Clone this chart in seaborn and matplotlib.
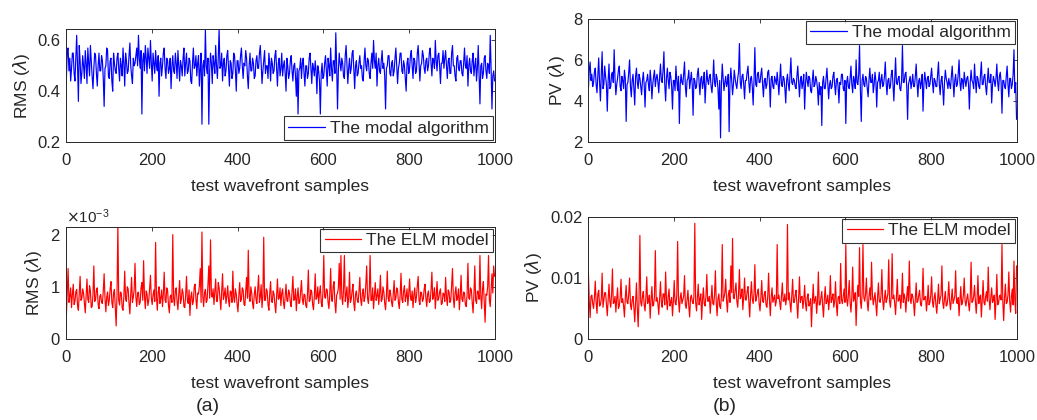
import numpy as np
import pandas as pd
import matplotlib
matplotlib.use("Agg")
import matplotlib.pyplot as plt
import seaborn as sns
from matplotlib.lines import Line2D

# Sample index (every 2nd test wavefront)
sample_idx = np.arange(1, 1001, 2)

# Modal algorithm RMS (lambda)
modal_rms = [
    0.45, 0.56, 0.57, 0.48, 0.53, 0.44, 0.49, 0.55, 0.55, 0.47, 0.44, 0.53, 0.62, 0.50, 0.36, 0.58, 0.52, 0.43, 0.47, 0.54,
    0.50, 0.45, 0.56, 0.51, 0.43, 0.57, 0.51, 0.46, 0.58, 0.52, 0.46, 0.41, 0.49, 0.55, 0.54, 0.47, 0.42, 0.50, 0.55, 0.48,
    0.48, 0.54, 0.52, 0.45, 0.34, 0.49, 0.50, 0.57, 0.56, 0.46, 0.45, 0.52, 0.53, 0.44, 0.40, 0.55, 0.51, 0.48, 0.47, 0.53,
    0.55, 0.49, 0.44, 0.53, 0.50, 0.46, 0.57, 0.51, 0.42, 0.55, 0.52, 0.47, 0.48, 0.54, 0.59, 0.50, 0.46, 0.43, 0.53, 0.50,
    0.51, 0.54, 0.57, 0.50, 0.62, 0.53, 0.49, 0.56, 0.31, 0.52, 0.55, 0.48, 0.58, 0.53, 0.47, 0.57, 0.53, 0.49, 0.60, 0.51,
    0.44, 0.55, 0.51, 0.47, 0.56, 0.50, 0.48, 0.54, 0.38, 0.51, 0.53, 0.46, 0.50, 0.55, 0.57, 0.49, 0.45, 0.53, 0.52, 0.47,
    0.49, 0.53, 0.41, 0.50, 0.54, 0.48, 0.47, 0.55, 0.51, 0.45, 0.56, 0.50, 0.44, 0.52, 0.50, 0.46, 0.53, 0.57, 0.46, 0.51,
    0.55, 0.47, 0.48, 0.53, 0.52, 0.44, 0.43, 0.51, 0.57, 0.49, 0.50, 0.54, 0.46, 0.51, 0.54, 0.42, 0.49, 0.55, 0.27, 0.50,
    0.52, 0.46, 0.64, 0.50, 0.47, 0.53, 0.27, 0.48, 0.55, 0.51, 0.43, 0.54, 0.51, 0.47, 0.58, 0.50, 0.45, 0.53, 0.645, 0.49,
    0.50, 0.55, 0.44, 0.51, 0.53, 0.46, 0.48, 0.54, 0.56, 0.49, 0.42, 0.52, 0.51, 0.45, 0.47, 0.55, 0.54, 0.48, 0.40, 0.52,
    0.52, 0.47, 0.49, 0.54, 0.57, 0.50, 0.45, 0.51, 0.50, 0.56, 0.53, 0.46, 0.41, 0.50, 0.55, 0.48, 0.48, 0.53, 0.51, 0.45,
    0.46, 0.52, 0.54, 0.49, 0.49, 0.55, 0.58, 0.51, 0.43, 0.48, 0.52, 0.56, 0.47, 0.50, 0.50, 0.45, 0.55, 0.51, 0.44, 0.53,
    0.51, 0.47, 0.48, 0.54, 0.56, 0.49, 0.42, 0.51, 0.53, 0.46, 0.49, 0.55, 0.46, 0.50, 0.52, 0.47, 0.40, 0.53, 0.50, 0.45,
    0.47, 0.52, 0.54, 0.48, 0.44, 0.50, 0.51, 0.46, 0.38, 0.49, 0.31, 0.48, 0.49, 0.53, 0.45, 0.51, 0.53, 0.47, 0.42, 0.50,
    0.50, 0.45, 0.47, 0.53, 0.55, 0.49, 0.43, 0.51, 0.49, 0.46, 0.52, 0.48, 0.39, 0.50, 0.48, 0.44, 0.31, 0.47, 0.51, 0.45,
    0.46, 0.51, 0.54, 0.48, 0.42, 0.53, 0.50, 0.46, 0.57, 0.49, 0.44, 0.52, 0.52, 0.47, 0.63, 0.50, 0.33, 0.48, 0.55, 0.51,
    0.48, 0.53, 0.51, 0.46, 0.45, 0.54, 0.58, 0.50, 0.43, 0.49, 0.53, 0.47, 0.49, 0.55, 0.56, 0.48, 0.41, 0.50, 0.52, 0.46,
    0.47, 0.51, 0.54, 0.49, 0.50, 0.45, 0.44, 0.52, 0.57, 0.50, 0.48, 0.53, 0.52, 0.47, 0.45, 0.51, 0.55, 0.49, 0.60, 0.52,
    0.49, 0.55, 0.42, 0.50, 0.53, 0.48, 0.47, 0.52, 0.56, 0.49, 0.51, 0.46, 0.33, 0.49, 0.50, 0.54, 0.54, 0.47, 0.46, 0.51,
    0.52, 0.46, 0.48, 0.53, 0.57, 0.50, 0.43, 0.49, 0.51, 0.55, 0.55, 0.48, 0.47, 0.52, 0.50, 0.45, 0.40, 0.51, 0.53, 0.47,
    0.49, 0.54, 0.56, 0.50, 0.45, 0.53, 0.52, 0.47, 0.48, 0.55, 0.58, 0.51, 0.44, 0.50, 0.51, 0.56, 0.54, 0.49, 0.47, 0.52,
    0.53, 0.48, 0.50, 0.55, 0.57, 0.51, 0.46, 0.53, 0.52, 0.49, 0.60, 0.52, 0.48, 0.54, 0.55, 0.50, 0.43, 0.51, 0.51, 0.56,
    0.49, 0.53, 0.56, 0.50, 0.45, 0.52, 0.53, 0.47, 0.47, 0.55, 0.58, 0.50, 0.50, 0.46, 0.44, 0.53, 0.54, 0.49, 0.48, 0.52,
    0.52, 0.47, 0.46, 0.51, 0.57, 0.50, 0.49, 0.54, 0.42, 0.50, 0.53, 0.48, 0.47, 0.52, 0.55, 0.46, 0.50, 0.53, 0.44, 0.49,
    0.58, 0.46, 0.35, 0.50, 0.51, 0.45, 0.47, 0.53, 0.54, 0.48, 0.45, 0.51, 0.50, 0.47, 0.62, 0.49, 0.33, 0.46, 0.48, 0.44,
]

# Modal algorithm PV (lambda)
modal_pv = [
    4.6, 5.5, 5.9, 5.0, 5.3, 4.7, 4.9, 5.4, 5.6, 4.8, 4.4, 5.2, 6.1, 4.9, 4.0, 5.3, 6.4, 4.6, 4.8, 5.7,
    5.2, 4.8, 3.5, 5.0, 5.8, 4.6, 4.7, 5.3, 5.4, 4.9, 6.5, 5.1, 4.3, 4.8, 5.1, 5.5, 5.7, 4.7, 4.5, 5.2,
    5.0, 4.6, 5.5, 5.1, 3.0, 4.8, 4.9, 5.4, 6.0, 4.7, 4.2, 5.0, 5.3, 4.6, 3.8, 5.2, 5.6, 4.9, 4.6, 5.3,
    5.1, 4.7, 4.3, 5.0, 5.4, 4.8, 3.7, 4.9, 5.0, 5.3, 4.8, 4.5, 5.5, 5.0, 4.1, 4.8, 5.2, 5.5, 4.7, 5.1,
    5.3, 4.9, 4.4, 5.2, 5.8, 5.0, 4.9, 5.5, 6.4, 4.8, 4.0, 5.1, 5.6, 5.0, 4.6, 5.4, 5.2, 4.7, 3.6, 5.0,
    5.0, 4.5, 5.7, 5.0, 4.5, 5.2, 2.9, 4.8, 5.3, 4.9, 4.8, 5.3, 5.9, 4.7, 4.2, 5.0, 5.1, 5.5, 4.6, 5.0,
    5.4, 4.8, 3.3, 5.1, 5.0, 4.6, 4.7, 5.3, 5.6, 4.9, 4.3, 5.1, 5.2, 4.6, 4.9, 5.4, 3.9, 4.8, 5.5, 5.0,
    4.8, 5.2, 5.3, 4.7, 4.4, 5.0, 6.0, 4.9, 4.7, 5.3, 5.1, 4.6, 3.6, 5.0, 2.2, 4.8, 5.8, 5.1, 4.5, 4.9,
    5.2, 4.7, 4.9, 5.3, 2.5, 4.9, 5.6, 5.0, 4.3, 4.8, 5.5, 5.1, 4.8, 4.6, 5.1, 5.4, 6.8, 4.9, 4.6, 5.2,
    5.3, 4.8, 4.1, 5.0, 5.0, 5.4, 5.7, 4.9, 4.4, 5.1, 5.2, 4.7, 3.8, 5.0, 6.6, 4.8, 4.7, 5.3, 5.4, 4.9,
    4.9, 5.3, 5.6, 4.8, 4.2, 5.0, 5.1, 4.6, 4.8, 5.4, 5.5, 4.9, 3.7, 5.1, 5.2, 4.7, 4.6, 5.2, 5.0, 4.8,
    5.4, 4.9, 4.3, 5.1, 5.8, 4.8, 4.7, 5.2, 5.1, 4.6, 3.9, 5.0, 5.3, 4.8, 4.5, 5.3, 6.1, 4.9, 4.8, 5.1,
    5.0, 4.7, 4.6, 5.2, 5.7, 4.9, 4.2, 5.0, 5.2, 4.6, 4.9, 5.3, 3.6, 4.8, 5.4, 5.0, 4.7, 5.2, 5.1, 4.5,
    4.4, 5.0, 5.5, 4.7, 4.8, 5.2, 5.0, 4.6, 3.8, 4.9, 4.3, 4.7, 2.8, 4.9, 5.2, 4.6, 4.6, 5.1, 5.6, 4.8,
    4.1, 4.8, 5.0, 4.6, 4.7, 5.2, 5.4, 4.8, 4.3, 5.0, 5.1, 4.7, 3.9, 4.9, 4.8, 5.3, 5.3, 4.6, 4.5, 5.0,
    2.9, 4.9, 5.2, 4.7, 4.6, 5.1, 5.7, 4.8, 4.4, 5.2, 5.0, 4.6, 6.0, 4.9, 4.8, 5.3, 6.7, 4.5, 3.0, 5.0,
    5.3, 4.8, 4.7, 5.2, 5.1, 4.6, 4.2, 5.0, 5.6, 4.9, 4.9, 5.3, 4.4, 4.8, 5.4, 5.0, 3.7, 4.9, 5.0, 5.4,
    4.6, 5.0, 5.3, 4.7, 4.8, 5.2, 5.9, 4.9, 4.3, 5.0, 5.1, 4.6, 4.7, 5.3, 5.5, 4.8, 4.0, 5.0, 6.1, 4.9,
    4.8, 5.1, 5.2, 4.6, 4.5, 5.0, 6.7, 4.9, 4.9, 5.3, 5.4, 4.7, 3.1, 4.8, 5.0, 5.2, 4.6, 4.9, 5.3, 4.7,
    4.7, 5.2, 5.8, 4.9, 4.2, 5.0, 5.1, 4.6, 4.9, 5.3, 3.5, 4.8, 5.4, 5.0, 4.6, 5.1, 5.2, 4.7, 4.8, 5.2,
    5.6, 4.9, 4.4, 5.1, 5.0, 4.7, 4.7, 5.3, 5.9, 4.8, 4.3, 5.0, 5.2, 4.6, 3.8, 4.9, 5.5, 5.1, 4.9, 4.6,
    5.1, 4.8, 4.6, 5.2, 5.7, 4.9, 4.2, 5.0, 5.3, 4.7, 4.8, 5.3, 6.0, 4.9, 4.5, 5.1, 5.0, 4.6, 5.4, 5.0,
    4.7, 5.1, 5.2, 4.8, 3.6, 4.9, 5.5, 5.0, 4.9, 4.6, 5.8, 5.0, 4.4, 5.2, 5.1, 4.7, 4.6, 5.3, 5.9, 4.8,
    4.8, 5.2, 5.3, 4.7, 4.3, 5.0, 5.6, 4.9, 4.9, 5.3, 3.9, 4.8, 5.2, 5.0, 4.7, 5.1, 5.8, 4.9, 4.5, 5.2,
    5.4, 4.9, 3.4, 5.0, 5.0, 4.7, 4.6, 5.2, 5.7, 4.8, 4.2, 5.1, 5.1, 4.6, 4.8, 5.3, 6.5, 4.4, 4.9, 3.1,
]

# ELM model RMS, in units of 1e-3 lambda
elm_rms_e3 = [
    0.45, 0.92, 1.35, 0.70, 0.82, 0.98, 0.60, 0.85, 1.05, 0.66, 0.72, 0.90, 0.95, 0.64, 0.55, 0.88, 1.20, 0.74, 0.78, 0.96,
    0.88, 0.68, 0.50, 0.84, 1.15, 0.76, 0.70, 1.02, 0.92, 0.60, 0.62, 0.86, 1.40, 0.72, 0.75, 0.94, 0.98, 0.66, 0.58, 0.82,
    0.85, 0.70, 0.68, 0.92, 1.25, 0.78, 0.52, 0.80, 0.90, 0.64, 0.74, 0.96, 1.10, 0.70, 0.60, 0.88, 0.95, 0.62, 0.25, 0.84,
    2.20, 0.74, 0.65, 0.90, 0.88, 0.60, 0.55, 0.82, 1.30, 0.76, 0.72, 1.00, 0.96, 0.68, 0.48, 0.86, 1.18, 0.70, 0.80, 0.94,
    1.45, 0.80, 0.62, 0.88, 0.90, 0.66, 0.70, 0.98, 1.08, 0.74, 1.50, 0.82, 0.58, 0.92, 0.86, 0.64, 0.74, 0.96, 1.22, 0.78,
    0.66, 0.84, 0.94, 0.72, 1.85, 0.80, 0.55, 0.90, 1.00, 0.68, 0.78, 0.94, 0.62, 0.86, 1.28, 0.74, 0.70, 0.98, 0.92, 0.64,
    0.50, 0.82, 0.84, 0.70, 2.00, 0.78, 0.64, 0.92, 0.98, 0.72, 0.56, 0.86, 1.12, 0.68, 0.76, 0.96, 0.88, 0.62, 0.60, 0.84,
    1.20, 0.74, 0.68, 0.94, 0.45, 0.80, 0.90, 0.66, 0.72, 1.00, 1.05, 0.76, 0.58, 0.88, 0.86, 1.02, 1.35, 0.70, 2.05, 0.82,
    0.62, 0.88, 0.95, 0.70, 0.74, 1.04, 1.40, 0.78, 1.90, 0.84, 0.80, 0.96, 0.66, 0.90, 1.15, 0.72, 0.72, 1.08, 0.98, 0.76,
    0.56, 0.90, 1.25, 0.76, 0.84, 0.98, 0.68, 0.82, 1.02, 0.74, 0.62, 0.92, 0.90, 0.70, 1.30, 0.80, 0.70, 0.96, 0.86, 0.66,
    0.52, 0.84, 1.08, 0.72, 0.76, 0.98, 0.94, 0.66, 0.64, 0.90, 1.18, 0.78, 1.70, 0.82, 0.72, 1.00, 0.88, 0.68, 0.58, 0.86,
    1.00, 0.76, 0.68, 0.94, 1.22, 0.70, 0.80, 1.04, 0.60, 0.82, 1.95, 0.74, 0.74, 0.96, 0.92, 0.66, 0.55, 0.88, 1.10, 0.72,
    0.70, 0.92, 0.86, 0.66, 0.50, 0.84, 1.15, 0.76, 0.78, 0.98, 0.64, 0.88, 0.96, 0.70, 0.58, 0.82, 1.05, 0.74, 0.72, 0.94,
    0.88, 0.70, 0.62, 0.90, 1.20, 0.74, 0.76, 0.96, 0.54, 0.80, 0.98, 0.68, 0.70, 0.92, 1.12, 0.76, 0.66, 0.86, 0.84, 0.64,
    0.60, 0.86, 1.32, 0.72, 0.74, 0.94, 0.90, 0.66, 0.56, 0.82, 1.25, 0.76, 0.80, 1.00, 0.68, 0.88, 1.02, 0.70, 0.62, 0.90,
    1.60, 0.80, 0.78, 0.96, 0.94, 0.70, 0.58, 0.86, 1.35, 0.74, 0.72, 1.02, 1.10, 0.68, 0.50, 0.84, 0.88, 0.98, 1.45, 0.76,
    1.60, 0.82, 0.66, 0.94, 1.60, 0.72, 0.84, 1.00, 0.60, 0.78, 1.28, 0.70, 0.76, 0.92, 1.05, 0.68, 0.54, 0.86, 0.92, 0.74,
    0.70, 0.90, 1.18, 0.76, 0.64, 0.88, 0.96, 0.72, 0.80, 1.04, 1.40, 0.78, 0.68, 0.92, 1.60, 0.74, 0.74, 0.98, 0.58, 0.84,
    1.08, 0.74, 0.82, 0.96, 0.66, 0.86, 1.22, 0.72, 0.76, 1.00, 0.90, 0.68, 0.56, 0.84, 1.30, 0.78, 0.72, 0.94, 0.86, 0.70,
    0.62, 0.88, 1.12, 0.74, 0.78, 0.98, 0.94, 0.70, 0.58, 0.84, 1.26, 0.76, 0.70, 0.92, 1.02, 0.72, 0.82, 0.96, 0.64, 0.86,
    1.15, 0.80, 0.74, 0.92, 0.60, 0.84, 0.98, 0.70, 0.80, 1.02, 1.20, 0.74, 0.66, 0.90, 0.88, 0.72, 0.76, 0.96, 1.05, 0.78,
    0.62, 0.86, 0.92, 0.70, 0.72, 0.94, 1.28, 0.76, 0.84, 0.98, 0.58, 0.82, 1.10, 0.74, 0.78, 0.90, 0.96, 0.66, 0.68, 0.88,
    0.86, 0.72, 1.18, 0.80, 0.64, 0.94, 0.90, 0.70, 0.74, 1.02, 1.35, 0.78, 0.60, 0.88, 1.00, 0.74, 0.80, 0.96, 0.56, 0.82,
    1.22, 0.76, 0.72, 0.90, 0.88, 0.66, 0.62, 0.84, 1.45, 0.78, 0.76, 0.98, 0.94, 0.70, 0.50, 0.86, 1.40, 0.74, 0.68, 0.92,
    0.90, 0.76, 1.60, 0.82, 0.58, 0.96, 1.10, 0.70, 0.32, 0.86, 0.84, 1.00, 1.60, 0.74, 0.62, 0.94, 1.25, 0.88, 1.40, 1.20,
]

# ELM model PV, in units of 1e-3 lambda
elm_pv_e3 = [
    11.0, 6.2, 3.5, 7.0, 7.2, 5.8, 5.0, 6.8, 9.5, 6.0, 4.2, 7.4, 8.0, 5.4, 5.6, 6.6, 10.8, 5.2, 6.4, 7.6,
    7.6, 5.6, 3.8, 6.4, 9.0, 6.2, 5.2, 7.2, 11.5, 5.8, 6.0, 7.0, 4.4, 6.6, 8.4, 5.0, 5.4, 6.8, 9.8, 6.0,
    6.6, 5.4, 3.6, 6.8, 8.8, 6.0, 5.8, 7.4, 10.0, 5.6, 4.8, 6.4, 7.0, 5.2, 2.8, 6.2, 9.2, 5.0, 2.0, 6.6,
    17.0, 6.0, 5.4, 7.0, 7.8, 5.6, 4.6, 6.8, 10.2, 5.8, 6.2, 7.2, 3.4, 6.4, 8.6, 5.4, 5.6, 7.0, 14.5, 6.2,
    6.8, 5.8, 4.0, 6.6, 9.4, 6.0, 5.2, 7.4, 7.4, 5.6, 11.0, 6.4, 4.8, 7.0, 8.2, 5.4, 6.0, 6.8, 3.8, 6.2,
    9.6, 6.0, 5.6, 7.2, 16.0, 6.4, 4.4, 6.8, 7.6, 5.8, 6.4, 7.0, 10.4, 5.6, 5.0, 6.6, 8.0, 5.4, 3.6, 6.8,
    7.2, 6.2, 5.8, 7.0, 19.0, 6.0, 4.6, 6.8, 9.0, 5.6, 6.6, 7.4, 3.2, 6.4, 8.4, 5.8, 5.4, 7.0, 10.6, 6.2,
    6.2, 7.0, 4.2, 6.4, 8.8, 5.8, 5.6, 7.2, 11.2, 6.0, 3.8, 6.6, 7.4, 5.4, 5.0, 7.0, 15.5, 6.2, 6.8, 7.6,
    9.8, 6.4, 4.4, 7.2, 8.0, 6.0, 12.0, 7.6, 16.5, 6.8, 6.6, 8.0, 9.2, 6.2, 5.2, 7.4, 11.4, 6.6, 7.0, 8.2,
    4.8, 7.0, 10.0, 6.4, 6.4, 7.8, 8.6, 6.0, 3.6, 7.2, 9.4, 6.6, 5.8, 7.4, 12.2, 6.2, 6.8, 7.6, 8.2, 5.8,
    4.6, 6.8, 9.6, 6.2, 6.0, 7.4, 7.8, 5.6, 5.2, 7.0, 10.8, 6.4, 3.8, 6.8, 8.4, 6.0, 6.6, 7.2, 5.4, 6.2,
    15.5, 6.6, 7.2, 6.0, 4.8, 7.0, 9.2, 6.2, 6.2, 7.4, 5.6, 6.8, 18.8, 6.4, 7.6, 5.8, 4.4, 7.0, 9.8, 6.0,
    6.0, 7.2, 8.0, 5.6, 3.4, 6.6, 10.2, 6.0, 6.8, 7.0, 5.0, 6.4, 8.8, 5.8, 4.6, 6.8, 7.4, 5.4, 5.8, 6.6,
    2.0, 6.0, 9.0, 5.8, 6.4, 7.0, 4.2, 6.2, 11.0, 5.6, 5.6, 6.8, 7.8, 5.4, 3.6, 6.6, 8.6, 5.8, 6.2, 7.2,
    4.8, 6.4, 10.4, 6.0, 6.6, 7.4, 5.2, 6.2, 9.4, 5.6, 3.8, 6.8, 7.0, 5.8, 12.4, 6.4, 5.8, 7.0, 8.2, 6.0,
    15.5, 6.6, 5.4, 7.2, 9.6, 6.0, 4.4, 6.8, 11.8, 6.2, 6.8, 7.6, 2.2, 6.4, 8.8, 7.0, 15.0, 6.2, 5.0, 7.4,
    15.5, 6.8, 6.2, 7.4, 10.0, 6.0, 4.6, 7.0, 8.4, 6.4, 12.6, 7.2, 5.6, 6.6, 7.6, 5.8, 3.8, 6.8, 9.2, 6.2,
    6.0, 7.0, 11.4, 6.4, 4.8, 6.6, 8.0, 6.0, 6.6, 7.4, 13.0, 6.2, 5.2, 7.0, 14.0, 6.6, 7.2, 5.8, 4.0, 6.8,
    9.8, 6.2, 6.4, 7.2, 5.0, 6.8, 10.8, 6.0, 7.4, 6.6, 4.4, 7.0, 8.6, 6.2, 12.8, 6.6, 5.8, 7.4, 7.0, 6.0,
    3.8, 6.6, 9.2, 6.0, 6.2, 7.2, 8.0, 5.8, 5.4, 6.8, 11.6, 6.4, 6.8, 7.0, 4.6, 6.2, 8.8, 5.6, 6.0, 7.2,
    10.2, 6.0, 5.2, 6.8, 7.6, 5.6, 4.2, 6.4, 9.0, 5.8, 6.6, 7.2, 12.0, 6.0, 5.0, 6.6, 7.8, 5.4, 5.6, 6.8,
    9.4, 6.2, 4.8, 6.6, 8.2, 5.8, 6.4, 7.0, 11.2, 6.0, 5.8, 6.8, 3.8, 6.4, 8.6, 5.6, 6.0, 7.2, 10.0, 6.2,
    5.4, 6.6, 7.4, 5.8, 4.6, 6.8, 12.6, 6.0, 6.2, 7.0, 8.8, 6.2, 4.2, 6.6, 10.4, 5.8, 6.8, 7.2, 3.6, 6.4,
    9.6, 6.0, 5.6, 7.0, 7.8, 6.2, 11.8, 6.6, 4.8, 6.8, 8.4, 6.0, 6.4, 7.2, 3.2, 6.2, 10.6, 5.6, 5.8, 7.0,
    7.2, 6.4, 15.5, 6.0, 3.0, 6.8, 9.0, 5.8, 6.0, 7.2, 11.0, 6.2, 4.4, 7.0, 8.2, 5.6, 12.8, 6.4, 4.2, 12.0,
]

df = pd.DataFrame({
    "sample": sample_idx,
    "modal_rms": modal_rms,
    "modal_pv": modal_pv,
    "elm_rms": np.array(elm_rms_e3) * 1e-3,
    "elm_pv": np.array(elm_pv_e3) * 1e-3,
})

sns.set_style("white")
plt.rcParams["font.family"] = ["Liberation Sans", "DejaVu Sans"]
plt.rcParams["mathtext.fontset"] = "dejavusans"

fig = plt.figure(figsize=(10.37, 4.2), dpi=100)

# [left, bottom, width, height] in figure fraction
panels = [
    ("modal_rms", [0.0636, 0.662, 0.4137, 0.269], "blue", "The modal algorithm",
     "RMS ($\\lambda$)", (0.2, 0.645), [0.2, 0.4, 0.6], "lower right"),
    ("elm_rms", [0.0636, 0.193, 0.4137, 0.267], "red", "The ELM model",
     "RMS ($\\lambda$)", (0, 2.15e-3), [0, 1e-3, 2e-3], "upper right"),
    ("modal_pv", [0.567, 0.662, 0.4137, 0.293], "blue", "The modal algorithm",
     "PV ($\\lambda$)", (2, 8), [2, 4, 6, 8], "upper right"),
    ("elm_pv", [0.567, 0.193, 0.4137, 0.290], "red", "The ELM model",
     "PV ($\\lambda$)", (0, 0.02), [0, 0.01, 0.02], "upper right"),
]

tick_fs = 12
lab_fs = 12.5
for col, rect, c, lab, ylab, ylim, yticks, loc in panels:
    ax = fig.add_axes(rect)
    sns.lineplot(data=df, x="sample", y=col, ax=ax, color=c, lw=0.85, legend=False)
    ax.set_xlim(0, 1000)
    ax.set_ylim(*ylim)
    ax.set_xticks([0, 200, 400, 600, 800, 1000])
    ax.set_yticks(yticks)
    if col == "elm_rms":
        ax.ticklabel_format(axis="y", style="sci", scilimits=(-3, -3), useMathText=True)
        ax.yaxis.get_offset_text().set_fontsize(tick_fs - 1)
    elif col == "elm_pv":
        ax.set_yticklabels(["0", "0.01", "0.02"])
    ax.set_xlabel("test wavefront samples", fontsize=lab_fs, labelpad=8)
    ax.set_ylabel(ylab, fontsize=lab_fs, labelpad=4)
    ax.tick_params(direction="in", length=3, width=0.6, top=True, right=True,
                   labelsize=tick_fs)
    ax.tick_params(axis="x", pad=8)
    ax.tick_params(axis="y", pad=4)
    for s in ax.spines.values():
        s.set_color("#262626")
        s.set_linewidth(0.7)
    handle = Line2D([0], [0], color=c, lw=0.9)
    leg = ax.legend(handles=[handle], labels=[lab], loc=loc, fontsize=lab_fs,
                    frameon=True, fancybox=False, edgecolor="black",
                    handlelength=2.1, handletextpad=0.3,
                    borderpad=0.25, borderaxespad=0.1)
    leg.get_frame().set_linewidth(0.8)

fig.text(0.2005, 0.031, "(a)", ha="center", va="center", fontsize=14)
fig.text(0.699, 0.031, "(b)", ha="center", va="center", fontsize=14)

fig.savefig("out.png", dpi=100, facecolor="white")
